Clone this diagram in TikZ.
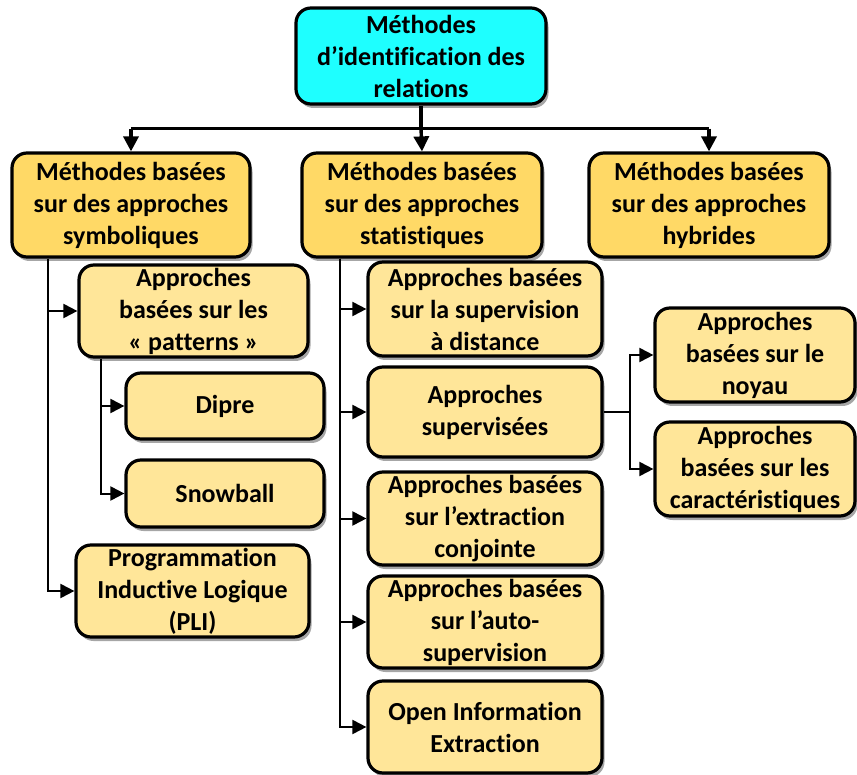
\documentclass[tikz,border=0pt]{standalone}
\usepackage{fontspec}
\setmainfont[Ligatures=NoCommon]{Carlito}
\usetikzlibrary{arrows.meta,shadows,calc}
\definecolor{rootfill}{HTML}{1EFFFF}
\definecolor{levelone}{HTML}{FFD966}
\definecolor{leveltwo}{HTML}{FFE699}
\begin{document}
\begin{tikzpicture}[x=1pt,y=-1pt,
  box/.style={draw=black, line width=3.2pt, rounded corners=15pt, align=center,
    inner sep=0pt, font=\bfseries\fontsize{26}{32}\selectfont,
    drop shadow={shadow xshift=2.5pt, shadow yshift=-4pt, opacity=0.35, fill=black}},
  rootbox/.style={box, fill=rootfill},
  mainbox/.style={box, fill=levelone},
  subbox/.style={box, fill=leveltwo},
  bus/.style={line width=3.4pt},
  busarrow/.style={bus, -{Triangle[length=15pt,width=15pt]}},
  branch/.style={line width=2pt},
  brancharrow/.style={branch, -{Triangle[length=14pt,width=14pt]}}]
\useasboundingbox (0,0) rectangle (857,775);

% root
\node[rootbox, minimum width=250pt, minimum height=96pt] (root) at (421,56)
  {Méthodes\\d’identification des\\relations};

% first level
\node[mainbox, minimum width=238pt, minimum height=104pt] (sym) at (131,205)
  {Méthodes basées\\sur des approches\\symboliques};
\node[mainbox, minimum width=240pt, minimum height=104pt] (stat) at (422,205)
  {Méthodes basées\\sur des approches\\statistiques};
\node[mainbox, minimum width=240pt, minimum height=104pt] (hyb) at (709,205)
  {Méthodes basées\\sur des approches\\hybrides};

% symbolic branch
\node[subbox, minimum width=229pt, minimum height=92pt] (pat) at (193.5,311)
  {Approches\\basées sur les\\« patterns »};
\node[subbox, minimum width=198pt, minimum height=66pt] (dipre) at (225,406) {Dipre};
\node[subbox, minimum width=198pt, minimum height=67pt] (snow) at (225,493.5) {Snowball};
\node[subbox, minimum width=233pt, minimum height=92pt] (pli) at (192.5,591)
  {Programmation\\Inductive Logique\\(PLI)};

% statistical branch
\node[subbox, minimum width=234pt, minimum height=94pt] (dist) at (485,309)
  {Approches basées\\sur la supervision\\à distance};
\node[subbox, minimum width=234pt, minimum height=90pt] (sup) at (485,412)
  {Approches\\supervisées};
\node[subbox, minimum width=234pt, minimum height=93pt] (conj) at (485,518.5)
  {Approches basées\\sur l’extraction\\conjointe};
\node[subbox, minimum width=234pt, minimum height=92pt] (auto) at (485,622)
  {Approches basées\\sur l’auto-\\supervision};
\node[subbox, minimum width=234pt, minimum height=92pt] (oie) at (485,727)
  {Open Information\\Extraction};

% supervised approaches
\node[subbox, minimum width=200pt, minimum height=94pt] (noy) at (755,355)
  {Approches\\basées sur le\\noyau};
\node[subbox, minimum width=200pt, minimum height=94pt] (car) at (755,469)
  {Approches\\basées sur les\\caractéristiques};

% root to first level
\coordinate (hub) at ($(root.south)+(0,23)$);
\draw[bus] (root.south) -- (hub);
\draw[bus] (hub -| sym.north) -- (hub -| hyb.north);
\draw[busarrow] (hub -| sym.north) -- (sym.north);
\draw[busarrow] (hub) -- (stat.north);
\draw[busarrow] (hub -| hyb.north) -- (hyb.north);

% symbolic trunk
\coordinate (symtrunk) at ($(sym.south west)+(38,0)$);
\draw[brancharrow] (symtrunk) |- (pat.west);
\draw[brancharrow] (symtrunk) |- (pli.west);
\coordinate (pattrunk) at ($(pat.south west)+(24,0)$);
\draw[brancharrow] (pattrunk) |- (dipre.west);
\draw[brancharrow] (pattrunk) |- (snow.west);

% statistical trunk
\coordinate (stattrunk) at ($(stat.south west)+(40,0)$);
\draw[brancharrow] (stattrunk) |- (dist.west);
\draw[brancharrow] (stattrunk) |- (sup.west);
\draw[brancharrow] (stattrunk) |- (conj.west);
\draw[brancharrow] (stattrunk) |- (auto.west);
\draw[brancharrow] (stattrunk) |- (oie.west);

% supervised split
\coordinate (split) at ($(sup.east)+(26,0)$);
\draw[branch] (sup.east) -- (split);
\draw[brancharrow] (split) |- (noy.west);
\draw[brancharrow] (split) |- (car.west);
\end{tikzpicture}
\end{document}
